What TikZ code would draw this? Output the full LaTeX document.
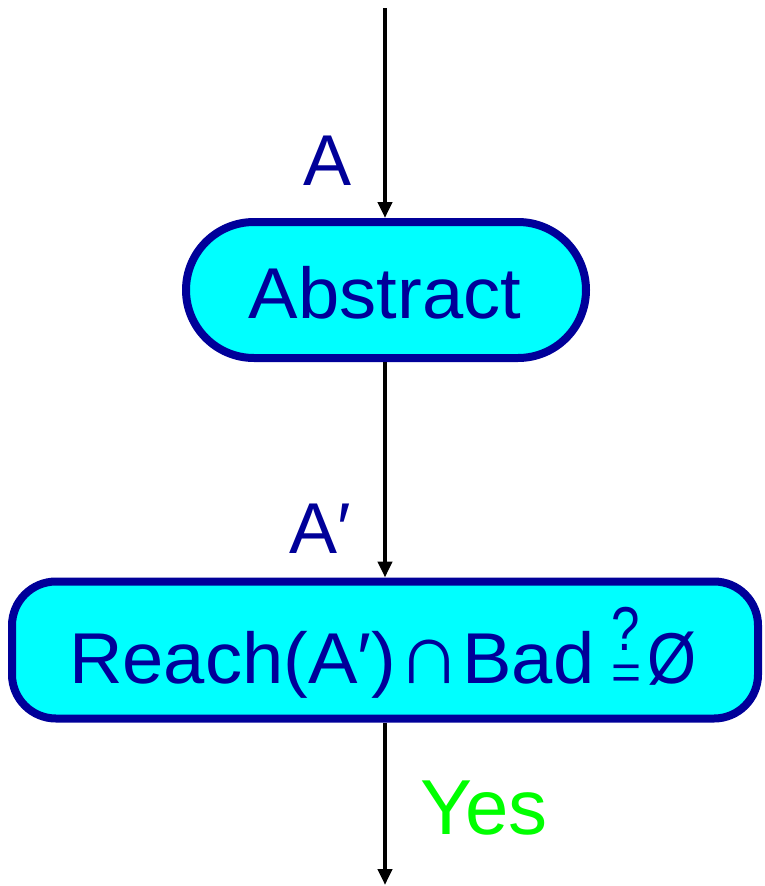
\documentclass[tikz,border=0pt]{standalone}
\usepackage{fontspec}
\setmainfont{Liberation Sans}
\usetikzlibrary{arrows.meta}
\definecolor{dblue}{RGB}{0,0,153}
\definecolor{cyanfill}{RGB}{0,255,255}
\definecolor{ygreen}{RGB}{0,255,0}
\newcommand\qeqsym{\makebox[30pt][c]{\raisebox{-6pt}{\fontsize{50}{50}\selectfont =}}\kern-30pt\makebox[30pt][c]{\raisebox{33pt}[0pt][0pt]{\scalebox{0.8}[1]{\fontsize{62}{62}\selectfont ?}}}}
\tikzset{
  flowbox/.style={draw=dblue, line width=8pt, fill=cyanfill, inner sep=0pt},
  flowarrow/.style={line width=4pt, -{Triangle[width=14pt,length=16pt]}, black},
  bluetext/.style={text=dblue, font=\fontsize{72}{72}\selectfont, inner sep=0pt},
}
\begin{document}
\begin{tikzpicture}[x=1pt,y=-1pt]
\useasboundingbox (0,0) rectangle (764,886);
\node[flowbox, minimum width=400pt, minimum height=136pt, rounded corners=68pt] (abs) at (386,290) {};
\node[bluetext, anchor=base] (abstxt) at (385,318) {\scalebox{1.03}[1]{Abstract}};
\node[flowbox, minimum width=746pt, minimum height=137pt, rounded corners=44pt] (reach) at (385,650) {};
\node[bluetext, anchor=base] (reachtxt) at (383,683) {\scalebox{1.03}[1]{Reach(A′)\kern1pt\scalebox{1.2}{∩}\kern1pt Bad\kern16pt\qeqsym\kern6pt\scalebox{0.85}[1]{Ø}}};
\coordinate (top) at (385,8);
\coordinate (bottom) at (385,885);
\draw[flowarrow] (top) -- (abs.north -| top);
\draw[flowarrow] (abs.south -| top) -- (reach.north -| top);
\draw[flowarrow] (reach.south -| top) -- (bottom);
\node[bluetext, anchor=base] (la) at (328,185) {A};
\node[bluetext, anchor=base] (lap) at (320,553) {A′};
\node[text=ygreen, font=\fontsize{78}{78}\selectfont, inner sep=0pt, anchor=base west] (yes) at (420,834) {Yes};
\end{tikzpicture}
\end{document}
